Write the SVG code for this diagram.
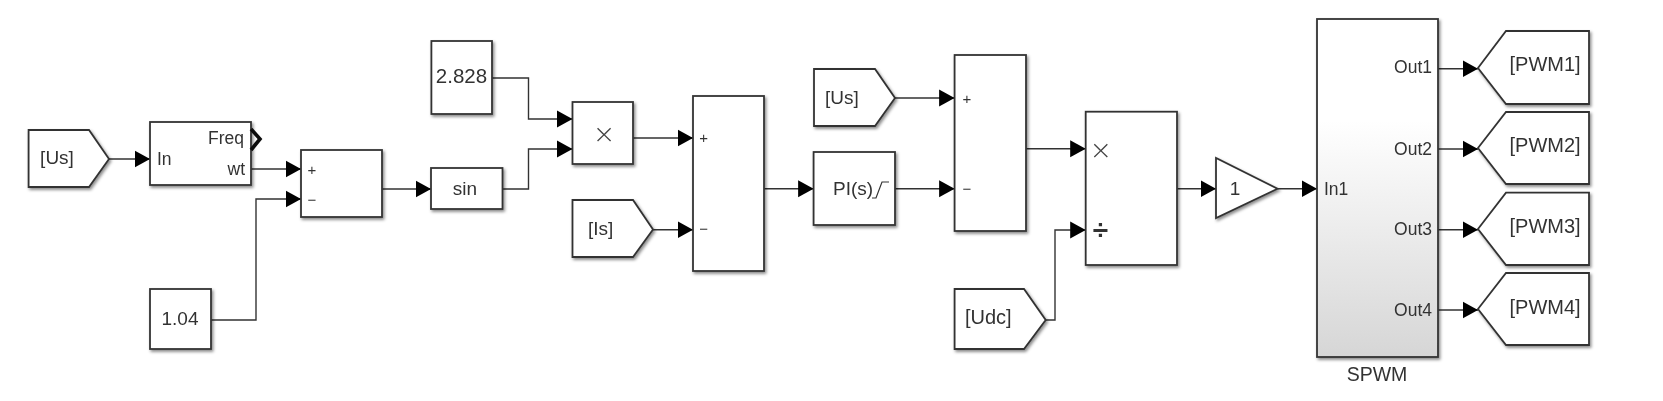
<svg xmlns="http://www.w3.org/2000/svg" width="1663" height="401" viewBox="0 0 1663 401">
<style>
text{font-family:"Liberation Sans",Arial,sans-serif;fill:#333;font-size:19px}
.b{fill:#fff;stroke:#333;stroke-width:1.8;filter:url(#sh)}
.p{font-size:17.5px}
.s{font-size:15px}
.l{font-size:20px}
.x{font-family:"DejaVu Sans",sans-serif;font-weight:200;font-size:27px;fill:#444}
.w{fill:none;stroke:#333;stroke-width:1.4;marker-end:url(#ah)}
.m{text-anchor:middle}
.e{text-anchor:end}
</style>
<defs>
<filter id="sh" x="-10%" y="-10%" width="125%" height="125%"><feDropShadow dx="1.5" dy="2" stdDeviation="1.4" flood-color="#000" flood-opacity=".45"/></filter>
<filter id="soft" x="-2%" y="-2%" width="104%" height="104%"><feGaussianBlur stdDeviation=".35"/></filter>
<marker id="ah" markerUnits="userSpaceOnUse" markerWidth="16" markerHeight="18" refX="15.500" refY="9" orient="auto"><path d="M0 0.500L15.500 9L0 17.500Z" fill="#000"/></marker>
<linearGradient id="g" x1="0" y1="0" x2="0" y2="1"><stop offset=".3" stop-color="#fff"/><stop offset="1" stop-color="#d6d6d6"/></linearGradient>
</defs>
<rect width="1663" height="401" fill="#fff"/>
<g filter="url(#soft)">
<g id="connectors">
<path class="w" d="M109 159H150"/>
<path class="w" d="M251 169H301"/>
<path class="w" d="M211 320H256V199H301"/>
<path class="w" d="M382 189H431"/>
<path class="w" d="M502.500 189H528.500V149H572.500"/>
<path class="w" d="M492 78H528.500V119H572.500"/>
<path class="w" d="M633 138H693"/>
<path class="w" d="M653 229.700H693"/>
<path class="w" d="M764 188.700H813.600"/>
<path class="w" d="M895 98H954.600"/>
<path class="w" d="M895 188.700H954.600"/>
<path class="w" d="M1026 148.700H1085.700"/>
<path class="w" d="M1045.700 320H1055V230H1085.700"/>
<path class="w" d="M1177 188.700H1216"/>
<path class="w" d="M1277.500 188.700H1317"/>
<path class="w" d="M1438 68.700H1478"/>
<path class="w" d="M1438 149H1478"/>
<path class="w" d="M1438 229.700H1478"/>
<path class="w" d="M1438 310H1478"/>
</g>
<g id="from-us-1"><path class="b" d="M28.600 130H89L109 159L89 187H28.600Z"/><text class="m" x="57" y="164">[Us]</text></g>
<g id="pll"><rect class="b" x="150" y="122" width="101" height="63"/><path d="M251 129L260 139L251 150" fill="none" stroke="#111" stroke-width="3.600"/><text class="p" x="157" y="165">In</text><text class="p e" x="244" y="144">Freq</text><text class="p e" x="245" y="175">wt</text></g>
<g id="sum-1"><rect class="b" x="301" y="150" width="81" height="67"/><text class="s m" x="312" y="175">+</text><text class="s m" x="312" y="205">−</text></g>
<g id="const-104"><rect class="b" x="150" y="289" width="61" height="60"/><text class="m" x="180" y="325">1.04</text></g>
<g id="sin"><rect class="b" x="431" y="168" width="71.500" height="41"/><text class="m" x="465" y="195">sin</text></g>
<g id="const-2828"><rect class="b" x="431.400" y="41" width="60.600" height="73"/><text class="m l" x="461.500" y="83" style="font-size:20.500px">2.828</text></g>
<g id="product-1"><rect class="b" x="572.500" y="102" width="60.500" height="62"/><text class="x m" x="604" y="143">×</text></g>
<g id="from-is"><path class="b" d="M572.500 200H633L653 229.500L633 257H572.500Z"/><text class="m" x="600.700" y="235">[Is]</text></g>
<g id="sum-2"><rect class="b" x="693" y="96" width="71" height="175"/><text class="s m" x="703.600" y="143">+</text><text class="s m" x="703.600" y="234">−</text></g>
<g id="pi"><rect class="b" x="813.600" y="152" width="81.400" height="73"/><text x="833" y="195">PI(s)</text><path d="M872 198H876L882 182H889" fill="none" stroke="#333" stroke-width="1.2"/></g>
<g id="from-us-2"><path class="b" d="M814 69H875L895 98L875 126H814Z"/><text x="825" y="104">[Us]</text></g>
<g id="sum-3"><rect class="b" x="954.600" y="55" width="71.400" height="176"/><text class="s m" x="967" y="103.500">+</text><text class="s m" x="967" y="193.500">−</text></g>
<g id="product-2"><rect class="b" x="1085.700" y="111.700" width="91.300" height="153.300"/><text class="x m" x="1100.700" y="159">×</text><text class="m" x="1100.500" y="239" style="font-size:28px;font-weight:bold">÷</text></g>
<g id="from-udc"><path class="b" d="M954.600 289H1024L1045.700 320L1024 349H954.600Z"/><text x="965" y="324" class="l">[Udc]</text></g>
<g id="gain"><path class="b" d="M1216 158V218L1277.500 188.700Z"/><text class="m" x="1235" y="195">1</text></g>
<g id="spwm"><rect class="b" x="1317" y="19" width="121" height="338" style="fill:url(#g)"/><text class="p" x="1324" y="195">In1</text><text class="p e" x="1432" y="73">Out1</text><text class="p e" x="1432" y="154.500">Out2</text><text class="p e" x="1432" y="235">Out3</text><text class="p e" x="1432" y="316">Out4</text><text class="m" x="1377" y="381" style="font-size:19.500px">SPWM</text></g>
<g id="goto-pwm1"><path class="b" d="M1478 68L1506 31H1589V104H1506Z"/><text class="l" x="1509.500" y="71">[PWM1]</text></g>
<g id="goto-pwm2"><path class="b" d="M1478 148L1506 112H1589V184H1506Z"/><text class="l" x="1509.500" y="152">[PWM2]</text></g>
<g id="goto-pwm3"><path class="b" d="M1478 229L1506 192.700H1589V265H1506Z"/><text class="l" x="1509.500" y="232.500">[PWM3]</text></g>
<g id="goto-pwm4"><path class="b" d="M1478 309L1506 273H1589V345H1506Z"/><text class="l" x="1509.500" y="313.500">[PWM4]</text></g>
</g>
</svg>
